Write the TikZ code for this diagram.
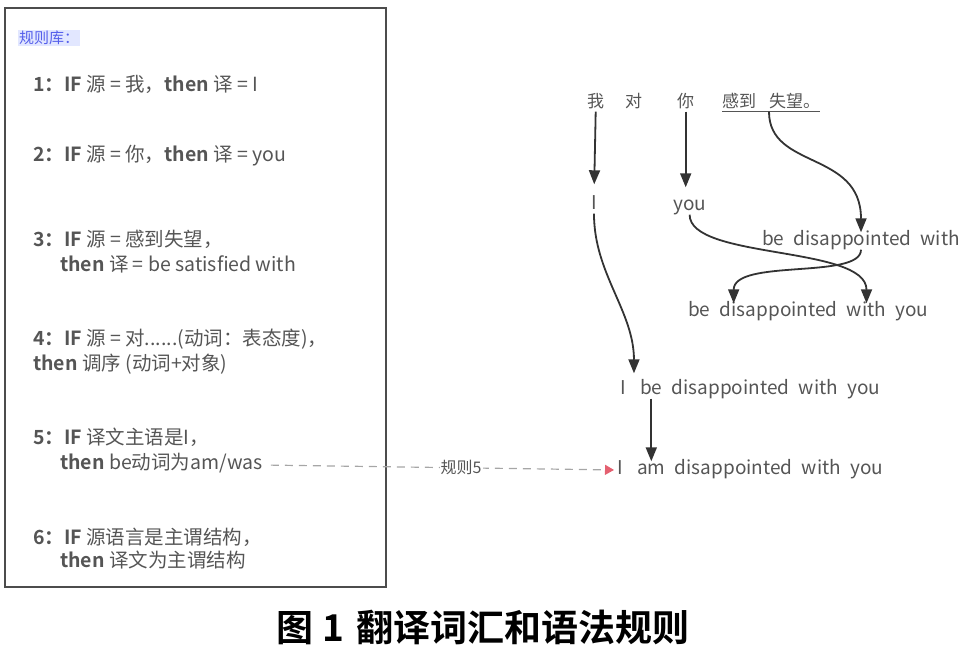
\documentclass[tikz,border=0pt]{standalone}
\usepackage{fontspec}
\setmainfont{Noto Sans CJK SC}[BoldFont={Noto Sans CJK SC Bold}]
\usetikzlibrary{arrows.meta, positioning}

\definecolor{txtgray}{RGB}{85,85,85}
\definecolor{titleblue}{RGB}{85,95,235}
\definecolor{titlebg}{RGB}{226,231,255}
\definecolor{linkred}{RGB}{228,96,112}

\tikzset{
  rule/.style={anchor=west, inner sep=0pt, text=txtgray, text height=13pt, text depth=4pt,
    font=\fontsize{19.5}{22}\selectfont},
  wd/.style={anchor=west, inner sep=0pt, text=txtgray, text height=13pt, text depth=4pt,
    font=\fontsize{19}{22}\selectfont},
  flow/.style={line width=1.8pt, draw=black!80, -{Triangle[length=14pt,width=11pt]}},
}

\begin{document}
\begin{tikzpicture}[x=1pt,y=-1pt]
\useasboundingbox (0,0) rectangle (972,656);
\draw[line width=2.5pt, draw=black!70] (5,8) rectangle (386,587);

\node[anchor=west, inner sep=1pt, fill=titlebg, text=titleblue, font=\fontsize{15}{18}\selectfont] (title) at (18,38) {规则库：};
\node[rule] (r1) at (33,87) {\textbf{1：IF} 源 = 我，\textbf{then} 译 = I};
\node[rule] (r2) at (33,157) {\textbf{2：IF} 源 = 你，\textbf{then} 译 = you};
\node[rule] (r3a) at (33,242) {\textbf{3：IF} 源 = 感到失望，};
\node[rule] (r3b) at (60,267) {\textbf{then} 译 = be satisfied with};
\node[rule] (r4a) at (33,341) {\textbf{4：IF} 源 = 对......(动词：表态度)，};
\node[rule] (r4b) at (33,366) {\textbf{then} 调序 (动词+对象)};
\node[rule] (r5a) at (33,440) {\textbf{5：IF} 译文主语是I，};
\node[rule] (r5b) at (60,465) {\textbf{then} be动词为am/was};
\node[rule] (r6a) at (33,540) {\textbf{6：IF} 源语言是主谓结构，};
\node[rule] (r6b) at (60,563) {\textbf{then} 译文为主谓结构};

\node[wd, font=\fontsize{17}{20}\selectfont] (zwo) at (587,103) {我};
\node[wd, font=\fontsize{17}{20}\selectfont] (zdui) at (625,103) {对};
\node[wd, font=\fontsize{17}{20}\selectfont] (zni) at (677,103) {你};
\node[wd, font=\fontsize{17}{20}\selectfont] (zgan) at (722,103) {感到};
\node[wd, font=\fontsize{17}{20}\selectfont] (zshi) at (769,103) {失望。};
\draw[line width=1pt, txtgray] (zgan.south west) -- (zshi.south east);

\node[wd] (eI) at (591,205) {I};
\node[wd] (eyou) at (673,206) {you};
\node[wd] (bdw) at (762,241) {be\hspace{5pt} disappointed\hspace{5pt} with};

\node[wd] (r2be) at (688,312) {be};
\node[wd, right=9pt of r2be] (r2dis) {disappointed};
\node[wd, right=9pt of r2dis] (r2with) {with};
\node[wd, right=9pt of r2with] (r2you) {you};

\node[wd] (r3i) at (620,390) {I};
\node[wd, right=14pt of r3i] (r3be) {be};
\node[wd, right=9pt of r3be] (r3dis) {disappointed};
\node[wd, right=9pt of r3dis] (r3with) {with};
\node[wd, right=9pt of r3with] (r3you) {you};

\node[wd] (r4i) at (617,470) {I};
\node[wd, right=14pt of r4i] (r4am) {am};
\node[wd, right=9pt of r4am] (r4dis) {disappointed};
\node[wd, right=9pt of r4dis] (r4with) {with};
\node[wd, right=9pt of r4with] (r4you) {you};

\draw[flow, shorten >=12pt] (zwo.south) -- (eI.north);
\draw[flow, shorten >=10pt] (zni.south) -- (zni.south |- eyou.north);
\draw[flow] (zshi.south west) .. controls +(0,58) and +(0,-82) .. (bdw.north);
\draw[flow] (eyou.south) .. controls +(0,45) and +(0,-58) .. (r2with.north);
\draw[flow] (bdw.south) .. controls +(0,30) and +(0,-45) .. ([xshift=14pt]r2dis.north west);
\draw[flow, shorten >=8pt] (eI.south) .. controls +(0,60) and +(0,-70) .. ([xshift=-6pt]r3be.north west);
\draw[flow] (r3be.south) -- (r3be.south |- r4am.north);

\draw[line width=1.2pt, draw=black!35, dash pattern=on 8pt off 6pt, shorten <=8pt, shorten >=3pt,
  -{Triangle[length=9pt,width=10pt,color=linkred]}] (r5b.east) -- (r4i.west)
  node[pos=0.56, fill=white, inner sep=1pt, text=txtgray, font=\fontsize{16}{19}\selectfont] (lnk) {规则5};

\node[font=\fontsize{37}{40}\selectfont\bfseries] (cap) at (483,627) {图 1\hspace{4pt} 翻译词汇和语法规则};
\end{tikzpicture}
\end{document}
